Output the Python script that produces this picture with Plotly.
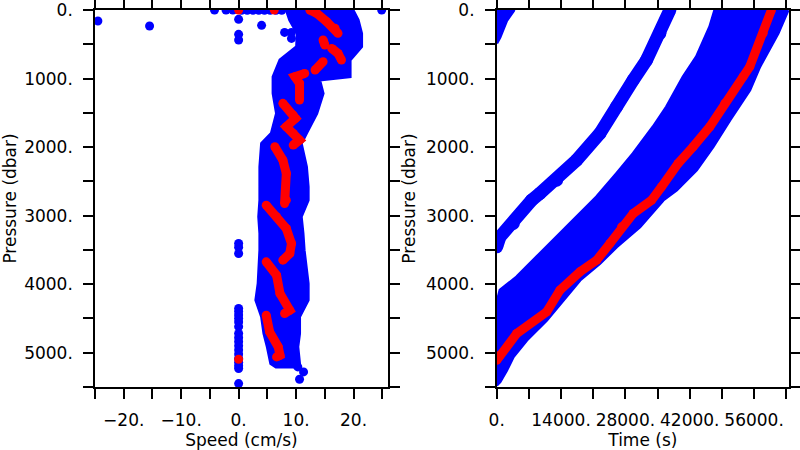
import plotly.graph_objects as go

FONT = "DejaVu Sans"
BLUE = "#0000FF"
RED = "#FF0000"

# ---------------- Left panel: speed vs pressure ----------------
# envelope of the dense blue cloud (speed, pressure), outline
cloud_speed = [8.3, 8.9, 10.2, 10.1, 7.2, 6.0, 6.0, 6.6, 5.7, 4.0, 3.7, 3.7, 3.7, 3.5, 3.7, 3.7, 3.4, 3.0,
               4.0, 4.4, 5.0, 5.6, 6.5,
               10.6, 10.6, 10.3, 10.6, 10.6, 12.1, 12.1, 11.4, 11.2, 10.9, 12.1, 12.1, 11.8, 10.9, 11.8,
               13.6, 14.7, 14.1, 19.4, 19.4, 21.4, 21.4, 20.8, 19.9]
cloud_pres = [0, 146, 341, 536, 730, 973, 1217, 1509, 1800, 1947, 2287, 2579, 2774, 3017, 3260, 3504, 3990, 4234,
              4477, 4720, 4915, 5158, 5210,
              5210, 5158, 4915, 4720, 4477, 4234, 3990, 3504, 3260, 3017, 2774, 2579, 2287, 1947, 1800,
              1509, 1217, 1022, 973, 730, 536, 341, 146, 0]

# isolated blue points
pts_speed = [-24.5, -15.5, 0.0, 4.0, 0.0, 0.0, 8.0, 9.2, 9.2, 24.9,
             -4.2, -2.2, -1.0, 0.5, 1.5, 2.5, 3.5, 4.5, 5.5, 6.5, 7.5,
             0, 0, 0,
             0, 0, 0, 0, 0, 0, 0, 0, 0, 0, 0, 0, 0, 0, 0, 0,
             0, 11.3, 10.6, 10.3]
pts_pres = [160, 233, 136, 224, 355, 438, 327, 327, 414, 0,
            0, 0, 0, 5, 5, 5, 5, 5, 5, 5, 5,
            3406, 3460, 3553,
            4355, 4400, 4450, 4500, 4550, 4620, 4720, 4780, 4840, 4900, 4960, 5020, 5085, 5140, 5190, 5230,
            5450, 5280, 5387, 5207]

# red mean-profile dots (None separates runs)
red_speed = [12.4, 13.6, 15.3, 16.8, 17.3, None,
             14.7, 15.0, None,
             16.2, 17.3, 17.9, None,
             14.7, 13.3, None,
             11.5, 9.8, 10.6, 10.6, None,
             7.7, 9.5, 9.9, 8.3, 9.5, 10.6, 9.5, None,
             6.3, 7.7, 8.3, 8.3, 8.0, None,
             4.8, 6.6, 8.3, 9.2, 8.9, 7.7, None,
             4.8, 6.6, 7.2, 8.9, 8.0, None,
             4.8, 5.4, 6.9, 7.2, 6.6, None,
             0.0, None, 0.0, None, 6.2]
red_pres = [0, 49, 170, 268, 341, None,
            438, 511, None,
            560, 633, 730, None,
            754, 876, None,
            925, 973, 1071, 1314, None,
            1362, 1533, 1582, 1703, 1800, 1898, 1971, None,
            1995, 2190, 2384, 2774, 2823, None,
            2847, 3017, 3188, 3407, 3553, 3650, None,
            3674, 3869, 4136, 4380, 4428, None,
            4453, 4696, 4915, 5037, 5061, None,
            5095, None, 0, None, 0]

# ---------------- Right panel: time vs pressure ----------------
band_time = [63400, 61220, 57240, 55070, 50720, 47090, 43480, 39130, 36220, 31150, 26090, 22460, 18110,
             14480, 10870, 6520, 3610, 2170, 720, 0,
             0, 720, 4350, 9410, 14480, 19570, 21740, 26090, 29700, 34040, 36960, 40570, 43480, 46370, 47460]
band_pres = [0, 341, 827, 1168, 1606, 1995, 2336, 2628, 2774, 3163, 3455, 3698, 3942,
             4234, 4526, 4818, 5060, 5255, 5426, 5474,
             4282, 4088, 3893, 3552, 3212, 2871, 2725, 2384, 2092, 1703, 1411, 973, 681, 243, 0]

streak_time = [37680, 35510, 32610, 29700, 26090, 22460, 17390, 13040, 9410, 7600, 3610, 720, 0]
streak_pres = [0, 341, 730, 1022, 1411, 1800, 2190, 2482, 2676, 2774, 3115, 3309, 3455]

blob_time = [0, 3800, 2200, 700, 0]
blob_pres = [0, 0, 150, 400, 487]

red_time = [59780, 57970, 55065, 53610, 49630, 46370, 42740, 39480, 35870, 33700, 29700, 27170, 24630,
            21740, 18110, 13760, 10870, 4350, 720, 0]
red_tpres = [0, 341, 827, 973, 1362, 1703, 1995, 2238, 2579, 2774, 2969, 3163, 3407,
             3650, 3820, 4088, 4404, 4720, 5037, 5110]

# ticks
speed_ticks = [-20, -10, 0, 10, 20]
speed_labels = ["\u221220.", "\u221210.", "0.", "10.", "20."]
speed_minor = [-25, -15, -5, 5, 15, 25]
pres_ticks = [0, 1000, 2000, 3000, 4000, 5000]
pres_labels = ["0.", "1000.", "2000.", "3000.", "4000.", "5000."]
pres_minor = [500, 1500, 2500, 3500, 4500, 5500]
time_ticks = [0, 14000, 28000, 42000, 56000]
time_labels = ["0.", "14000.", "28000.", "42000.", "56000."]
time_minor = [7000, 21000, 35000, 49000, 63000]

fig = go.Figure()

fig.add_trace(go.Scatter(x=cloud_speed, y=cloud_pres, mode="lines", fill="toself", fillcolor=BLUE,
                         line=dict(color=BLUE, width=3), xaxis="x", yaxis="y", hoverinfo="skip"))
fig.add_trace(go.Scatter(x=pts_speed, y=pts_pres, mode="markers", marker=dict(color=BLUE, size=9),
                         xaxis="x", yaxis="y"))
fig.add_trace(go.Scatter(x=red_speed, y=red_pres, mode="lines+markers", connectgaps=False,
                         line=dict(color=RED, width=9), marker=dict(color=RED, size=9),
                         xaxis="x", yaxis="y"))

fig.add_trace(go.Scatter(x=band_time, y=band_pres, mode="lines", fill="toself", fillcolor=BLUE,
                         line=dict(color=BLUE, width=3), xaxis="x2", yaxis="y2", hoverinfo="skip"))
fig.add_trace(go.Scatter(x=blob_time, y=blob_pres, mode="lines", fill="toself", fillcolor=BLUE,
                         line=dict(color=BLUE, width=3), xaxis="x2", yaxis="y2", hoverinfo="skip"))
fig.add_trace(go.Scatter(x=streak_time, y=streak_pres, mode="lines+markers",
                         line=dict(color=BLUE, width=13), marker=dict(color=BLUE, size=13),
                         xaxis="x2", yaxis="y2"))
fig.add_trace(go.Scatter(x=red_time, y=red_tpres, mode="lines+markers",
                         line=dict(color=RED, width=9), marker=dict(color=RED, size=9),
                         xaxis="x2", yaxis="y2"))

tickfont = dict(family=FONT, size=17, color="black")
titlefont = dict(family=FONT, size=17, color="black")


def axis(domain, rng, tv, tt, minor_vals, title, anchor, standoff):
    return dict(domain=domain, range=rng, anchor=anchor, tickmode="array", tickvals=tv, ticktext=tt,
                showline=True, linecolor="black", linewidth=1.5, mirror="ticks",
                ticks="outside", ticklen=10, tickwidth=1.5, tickcolor="black",
                minor=dict(tickvals=minor_vals, ticks="outside", ticklen=10, tickwidth=1.5,
                           tickcolor="black", showgrid=False),
                showgrid=False, zeroline=False, tickfont=tickfont, ticklabelstandoff=7,
                ticklabeloverflow="allow", automargin=False,
                title=dict(text=title, font=titlefont, standoff=standoff))


ydom = [1 - 387 / 450, 1 - 10 / 450]
fig.update_layout(
    width=800, height=450, autosize=False,
    margin=dict(l=0, r=0, t=0, b=0),
    paper_bgcolor="white", plot_bgcolor="white", showlegend=False,
    xaxis=axis([95 / 800, 388 / 800], [-25, 26], speed_ticks, speed_labels, speed_minor,
               "Speed (cm/s)", "y", 2),
    yaxis=axis(ydom, [5500, 0], pres_ticks, pres_labels, pres_minor, "Pressure (dbar)", "x", 4),
    xaxis2=axis([496.7 / 800, 789 / 800], [0, 63600], time_ticks, time_labels, time_minor,
                "Time (s)", "y2", 2),
    yaxis2=axis(ydom, [5500, 0], pres_ticks, pres_labels, pres_minor, "Pressure (dbar)", "x2", 6),
)

fig.write_html("out.html", config={"displayModeBar": False},
               post_script="document.body.style.margin='0px';")
